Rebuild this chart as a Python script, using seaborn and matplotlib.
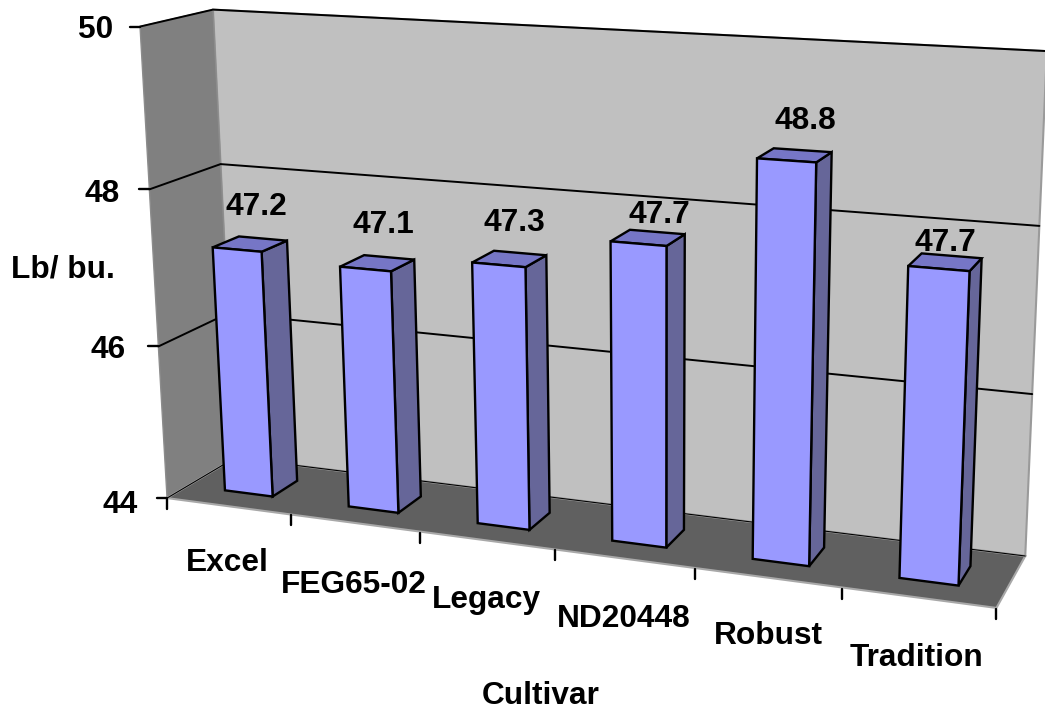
import numpy as np
import pandas as pd
import matplotlib
matplotlib.use("Agg")
import matplotlib.pyplot as plt
from matplotlib.transforms import Transform
import seaborn as sns

# Chart data
cultivars = ["Excel", "FEG65-02", "Legacy", "ND20448", "Robust", "Tradition"]
test_weight = [47.2, 47.1, 47.3, 47.7, 48.8, 47.7]
value_ticks = [44, 46, 48, 50]

# Page position of known box corners: (category, value, depth) -> (px, py)
anchors_3d = [(-0.5, 50, 0), (-0.5, 50, 1), (-0.5, 44, 0), (-0.5, 44, 1),
              (5.5, 44, 1), (5.5, 44, 0), (5.5, 50, 1),
              (-0.5, 48, 0), (-0.5, 48, 1), (5.5, 48, 1),
              (-0.5, 46, 1), (5.5, 46, 1)]
anchors_px = [(141, 27), (213, 8), (165, 497), (236, 456),
              (1025, 555), (997, 608), (1045, 50),
              (150, 190), (220, 163), (1040, 227),
              (228, 318), (1033, 395)]

BAR_WIDTH = 0.39
DEPTH_NEAR, DEPTH_FAR = 0.30, 0.68
FRONT, SIDE, TOP = "#9999FF", "#666699", "#7676C6"
BAR_EDGE = 1.7


def fit_camera(points, pixels):
    rows, rhs = [], []
    for (x, y, z), (u, v) in zip(points, pixels):
        rows.append([x, y, z, 1, 0, 0, 0, 0, -u * x, -u * y, -u * z])
        rows.append([0, 0, 0, 0, x, y, z, 1, -v * x, -v * y, -v * z])
        rhs += [u, v]
    sol = np.linalg.lstsq(np.array(rows, float), np.array(rhs, float), rcond=None)[0]
    return np.append(sol, 1.0).reshape(3, 4)


CAMERA = fit_camera(anchors_3d, anchors_px)


def project(x, y, z):
    h = CAMERA @ np.array([x, y, z, 1.0])
    return h[0] / h[2], h[1] / h[2]


class PlaneAtDepth(Transform):
    """Sends (category, value) on a plane of constant depth to page pixels."""
    input_dims = output_dims = 2

    def __init__(self, plane_depth):
        super().__init__()
        self.plane_depth = plane_depth

    def transform_non_affine(self, xy):
        xy = np.asarray(xy, float)
        return np.array([project(a, b, self.plane_depth) for a, b in xy])


sns.set_theme(style="white")
plt.rcParams["font.family"] = ["Liberation Sans", "DejaVu Sans"]

fig = plt.figure(figsize=(10.45, 7.11), dpi=100)
ax = fig.add_axes([0, 0, 1, 1])

frame = pd.DataFrame({"cultivar": cultivars, "weight": test_weight})
sns.barplot(data=frame, x="cultivar", y="weight", width=BAR_WIDTH, color=FRONT,
            saturation=1, edgecolor="black", linewidth=BAR_EDGE, ax=ax, zorder=5)

near = PlaneAtDepth(DEPTH_NEAR) + ax.transData
for patch, value in zip(list(ax.patches), test_weight):
    patch.set_y(value_ticks[0])
    patch.set_height(value - value_ticks[0])
    patch.set_transform(near)
    patch.set_joinstyle("miter")
    x0, x1 = patch.get_x(), patch.get_x() + patch.get_width()
    v0 = value_ticks[0]
    side = [project(x1, v0, DEPTH_NEAR), project(x1, value, DEPTH_NEAR),
            project(x1, value, DEPTH_FAR), project(x1, v0, DEPTH_FAR)]
    top = [project(x0, value, DEPTH_NEAR), project(x1, value, DEPTH_NEAR),
           project(x1, value, DEPTH_FAR), project(x0, value, DEPTH_FAR)]
    for poly, colour in ((side, SIDE), (top, TOP)):
        ax.fill(*zip(*poly), facecolor=colour, edgecolor="black", linewidth=BAR_EDGE,
                joinstyle="miter", zorder=4)

ax.set_xlim(0, 1045)
ax.set_ylim(711, 0)
ax.axis("off")

lo, hi = value_ticks[0], value_ticks[-1]
xl, xr = -0.5, 5.5

# Walls and floor
back = [project(xl, lo, 1), project(xr, lo, 1), project(xr, hi, 1), project(xl, hi, 1)]
wall = [project(xl, lo, 0), project(xl, lo, 1), project(xl, hi, 1), project(xl, hi, 0)]
floor = [project(xl, lo, 0), project(xr, lo, 0), project(xr, lo, 1), project(xl, lo, 1)]
ax.fill(*zip(*back), facecolor="#C0C0C0", edgecolor="#9a9a9a", linewidth=1.5, zorder=1)
ax.fill(*zip(*wall), facecolor="#808080", edgecolor="#8c8c8c", linewidth=1, zorder=1.5)
ax.fill(*zip(*floor), facecolor="#606060", edgecolor="#a8a8a8", linewidth=1.5, zorder=2)

# Gridlines along the back wall and the side wall
for tick in value_ticks:
    path = [project(xl, tick, 0), project(xl, tick, 1), project(xr, tick, 1)]
    lw = 0.8 if tick == lo else 1.4
    ax.plot(*zip(*path), color="black", linewidth=lw, zorder=3)
    fx, fy = project(xl, tick, 0)
    ax.plot([fx - 10, fx], [fy, fy], color="black", linewidth=1.7, zorder=3)

# Tick marks under the front edge, at the category boundaries
for i in range(len(cultivars) + 1):
    fx, fy = project(xl + i, lo, 0)
    ax.plot([fx, fx], [fy + 1, fy + 11], color="black", linewidth=1.7, zorder=3)

# Text
font = dict(fontsize=22.8, fontweight="bold", color="black", zorder=6)
tick_label_xy = [(138, 505), (126, 350), (120, 194), (113, 30)]
for tick, (px, py) in zip(value_ticks, tick_label_xy):
    ax.text(px, py, str(tick), ha="right", va="center", **font)

value_label_xy = [(256, 207), (383, 225), (514, 223), (659, 215), (805, 121), (945, 243)]
for value, (px, py) in zip(test_weight, value_label_xy):
    ax.text(px, py, f"{value:.1f}", ha="center", va="center", **font)

category_label_xy = [(227, 563), (354, 585), (486, 600), (624, 619), (768, 636), (917, 658)]
for name, (px, py) in zip(cultivars, category_label_xy):
    ax.text(px, py, name, ha="center", va="center", **font)

ax.text(541, 696, "Cultivar", ha="center", va="center", **font)
ax.text(63, 269, "Lb/ bu.", ha="center", va="center", **font)

fig.savefig("out.png", dpi=100)
